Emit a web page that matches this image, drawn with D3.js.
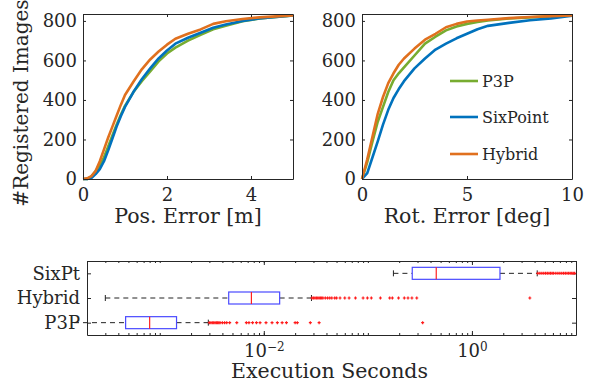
<!DOCTYPE html>
<html><head><meta charset="utf-8">
<script src="https://cdn.jsdelivr.net/npm/d3@7/dist/d3.min.js"></script>
<style>
body{margin:0;background:#fff;}
svg text{font-family:"DejaVu Serif",serif;fill:#262626;}
</style></head>
<body><svg id="c" width="589" height="383"></svg>
<script>
// ---------- DATA ----------
const seriesNames = ["P3P","SixPoint","Hybrid"];
const seriesColors = ["#77AC30","#0072BD","#E0701E"];

const posX = [0,0.1,0.2,0.3,0.4,0.5,0.6,0.7,0.8,0.9,1.0,1.2,1.4,1.6,1.8,2.0,2.2,2.5,2.8,3.1,3.4,3.8,4.2,4.6,5.0];
const posP3P    = [0,0,12,40,70,110,165,220,275,325,370,440,495,545,595,635,665,700,730,758,775,798,812,820,828];
const posSix    = [0,0,5,25,50,90,145,205,265,318,365,440,505,560,610,650,685,715,740,765,782,800,812,820,828];
const posHybrid = [0,3,15,40,90,150,210,265,320,375,425,492,555,605,645,680,710,735,757,785,798,810,818,823,828];

const rotX = [0,0.25,0.5,0.75,1.0,1.25,1.5,1.75,2.0,2.5,3.0,3.5,4.0,4.5,5.0,5.5,6.0,7.0,8.0,9.0,10.0];
const rotP3P    = [0,85,190,290,365,440,500,535,565,625,685,720,752,772,785,795,802,812,818,823,828];
const rotSix    = [0,30,110,190,275,350,410,455,495,560,610,655,685,712,735,758,775,790,803,813,826];
const rotHybrid = [0,100,215,330,415,485,535,578,610,660,705,735,768,785,797,802,806,814,820,824,828];

const cdfYTicks = [0,200,400,600,800];
const posXTicks = [0,2,4];
const rotXTicks = [0,5,10];

// boxplot (execution seconds)
const boxCats = ["P3P","Hybrid","SixPt"];
const boxWhiskLo = [1.5e-4, 3.0e-4, 0.176];
const boxQ1      = [4.7e-4, 4.6e-3, 0.267];
const boxMedian  = [8.0e-4, 7.6e-3, 0.454];
const boxQ3      = [1.45e-3, 0.0142, 1.86];
const boxWhiskHi = [2.93e-3, 0.0287, 4.24];
const outP3P = [0.0030,0.0031,0.0032,0.0033,0.0034,0.0035,0.0036,0.0037,0.0038,0.0040,0.0042,0.0044,0.0047,0.0055,0.0068,0.0072,0.0078,0.0085,0.0092,0.0105,0.0120,0.0135,0.0150,0.0165,0.0200,0.0210,0.0280,0.0340,0.336];
const outHybrid = [0.029,0.030,0.031,0.032,0.033,0.034,0.035,0.036,0.037,0.039,0.041,0.043,0.045,0.048,0.050,0.054,0.060,0.066,0.076,0.090,0.099,0.108,0.132,0.162,0.172,0.197,0.224,0.243,0.265,0.295,3.6];
const outSix = [4.3,4.5,4.7,4.9,5.1,5.3,5.5,5.7,5.9,6.1,6.4,6.7,7.0,7.3,7.6,7.9,8.2,8.5,8.8,9.1,9.4,9.7];
const boxXTicks = [1e-2, 1e0];

// ---------- DRAW ----------
const svg = d3.select("#c");
const axisCol = "#262626";
const FF = "DejaVu Serif, serif";

function cdfPanel(x0, x1, xDom, xs, ys, xTicks, title) {
  const y0 = 179, y1 = 14;
  const x = d3.scaleLinear().domain(xDom).range([x0, x1]);
  const y = d3.scaleLinear().domain([0, 835]).range([y0, y1]);
  const g = svg.append("g");
  const line = d3.line().x(d => x(d[0])).y(d => y(d[1]));
  [0,1,2].forEach(i => {
    g.append("path").datum(xs.map((v, k) => [v, ys[i][k]]))
      .attr("d", line).attr("fill", "none").attr("stroke", seriesColors[i])
      .attr("stroke-width", 2.6).attr("stroke-linejoin", "round");
  });
  const fmt = d3.format("d");
  const ab = g.append("g").attr("transform", `translate(0,${y0})`).call(d3.axisBottom(x).tickValues(xTicks).tickSizeInner(-3).tickSizeOuter(0).tickPadding(9).tickFormat(fmt));
  const at = g.append("g").attr("transform", `translate(0,${y1})`).call(d3.axisTop(x).tickValues(xTicks).tickSizeInner(-3).tickSizeOuter(0).tickFormat(""));
  const al = g.append("g").attr("transform", `translate(${x0},0)`).call(d3.axisLeft(y).tickValues(cdfYTicks).tickSizeInner(-3).tickSizeOuter(0).tickPadding(6).tickFormat(fmt));
  const ar = g.append("g").attr("transform", `translate(${x1},0)`).call(d3.axisRight(y).tickValues(cdfYTicks).tickSizeInner(-3).tickSizeOuter(0).tickFormat(""));
  [ab, at, al, ar].forEach(a => {
    a.attr("font-family", FF);
    a.select(".domain").attr("stroke", axisCol).attr("stroke-width", 1);
    a.selectAll(".tick line").attr("stroke", axisCol);
    a.selectAll("text").attr("font-size", 18).attr("fill", axisCol);
  });
  ab.selectAll("text").attr("dy", "0.71em");
  g.append("text").attr("x", (x0 + x1) / 2).attr("y", 223).attr("text-anchor", "middle")
    .attr("font-size", 20.5).text(title);
  return {x, y, g};
}

cdfPanel(83, 293, [0, 5], posX, [posP3P, posSix, posHybrid], posXTicks, "Pos. Error [m]");
cdfPanel(362, 572, [0, 10], rotX, [rotP3P, rotSix, rotHybrid], rotXTicks, "Rot. Error [deg]");

svg.append("text").attr("transform", "translate(28,103) rotate(-90)").attr("text-anchor", "middle")
  .attr("font-size", 20).text("#Registered Images");

// legend
const legY = [81, 117, 154];
seriesNames.forEach((n, i) => {
  svg.append("line").attr("x1", 450).attr("x2", 478).attr("y1", legY[i]).attr("y2", legY[i])
    .attr("stroke", seriesColors[i]).attr("stroke-width", 2.6);
  svg.append("text").attr("x", 482).attr("y", legY[i]).attr("dy", "0.36em").attr("font-size", 16).text(n);
});

// ---------- boxplot ----------
const bx0 = 87, bx1 = 576, by0 = 335, by1 = 261;
const bx = d3.scaleLog().domain([2e-4, 10]).range([bx0, bx1]);
const by = d3.scalePoint().domain(boxCats).range([by0, by1]).padding(0.5);
const bg = svg.append("g");
const minorTicks = bx.ticks();
bg.append("g").attr("transform", `translate(0,${by0})`)
  .call(d3.axisBottom(bx).tickValues(minorTicks).tickSizeInner(-2).tickSizeOuter(0).tickFormat(""))
  .call(a => { a.select(".domain").remove(); a.selectAll("line").attr("stroke", axisCol); });
bg.append("g").attr("transform", `translate(0,${by1})`)
  .call(d3.axisTop(bx).tickValues(minorTicks).tickSizeInner(-2).tickSizeOuter(0).tickFormat(""))
  .call(a => { a.select(".domain").remove(); a.selectAll("line").attr("stroke", axisCol); });
const bb = bg.append("g").attr("transform", `translate(0,${by0})`)
  .call(d3.axisBottom(bx).tickValues(boxXTicks).tickSizeInner(-4).tickSizeOuter(0).tickFormat(() => ""));
const bt = bg.append("g").attr("transform", `translate(0,${by1})`)
  .call(d3.axisTop(bx).tickValues(boxXTicks).tickSizeInner(-4).tickSizeOuter(0).tickFormat(""));
const bl = bg.append("g").attr("transform", `translate(${bx0},0)`)
  .call(d3.axisLeft(by).tickSizeInner(-4).tickSizeOuter(0).tickPadding(7));
const br = bg.append("g").attr("transform", `translate(${bx1},0)`)
  .call(d3.axisRight(by).tickSizeInner(-4).tickSizeOuter(0).tickFormat(""));
[bb, bt, bl, br].forEach(a => {
  a.attr("font-family", FF);
  a.select(".domain").attr("stroke", axisCol);
  a.selectAll(".tick line").attr("stroke", axisCol);
  a.selectAll("text").attr("font-size", 18).attr("fill", axisCol);
});
bb.selectAll(".tick").each(function(d) {
  d3.select(this).select("text").remove();
  const t = d3.select(this).append("text").attr("y", 22).attr("fill", axisCol)
    .attr("text-anchor", "middle").attr("font-size", 18).attr("font-family", FF);
  t.append("tspan").text("10");
  t.append("tspan").attr("dy", "-0.5em").attr("font-size", 12).text(String(Math.round(Math.log10(d))).replace("-", "\u2212"));
});
bg.append("text").attr("x", (bx0 + bx1) / 2 - 2).attr("y", 378).attr("text-anchor", "middle")
  .attr("font-size", 20.5).text("Execution Seconds");

const outs = [outP3P, outHybrid, outSix];
boxCats.forEach((c, i) => {
  const yc = by(c), h = 6;
  bg.append("line").attr("x1", bx(boxWhiskLo[i])).attr("x2", bx(boxQ1[i])).attr("y1", yc).attr("y2", yc)
    .attr("stroke", "#222").attr("stroke-dasharray", "5,4");
  bg.append("line").attr("x1", bx(boxQ3[i])).attr("x2", bx(boxWhiskHi[i])).attr("y1", yc).attr("y2", yc)
    .attr("stroke", "#222").attr("stroke-dasharray", "5,4");
  [boxWhiskLo[i], boxWhiskHi[i]].forEach(v => {
    if (v >= 2e-4) bg.append("line").attr("x1", bx(v)).attr("x2", bx(v)).attr("y1", yc - 3).attr("y2", yc + 3).attr("stroke", "#222");
  });
  bg.append("rect").attr("x", bx(boxQ1[i])).attr("y", yc - h).attr("width", bx(boxQ3[i]) - bx(boxQ1[i]))
    .attr("height", 2 * h).attr("fill", "none").attr("stroke", "#4a4aff").attr("stroke-width", 1.2);
  bg.append("line").attr("x1", bx(boxMedian[i])).attr("x2", bx(boxMedian[i])).attr("y1", yc - h).attr("y2", yc + h)
    .attr("stroke", "#ff2020").attr("stroke-width", 1.2);
  bg.selectAll(null).data(outs[i]).enter().append("path")
    .attr("d", d => `M${bx(d) - 1.5},${yc}h3M${bx(d)},${yc - 1.5}v3`)
    .attr("stroke", "#ff1a1a").attr("stroke-width", 1.2);
});
</script></body></html>
